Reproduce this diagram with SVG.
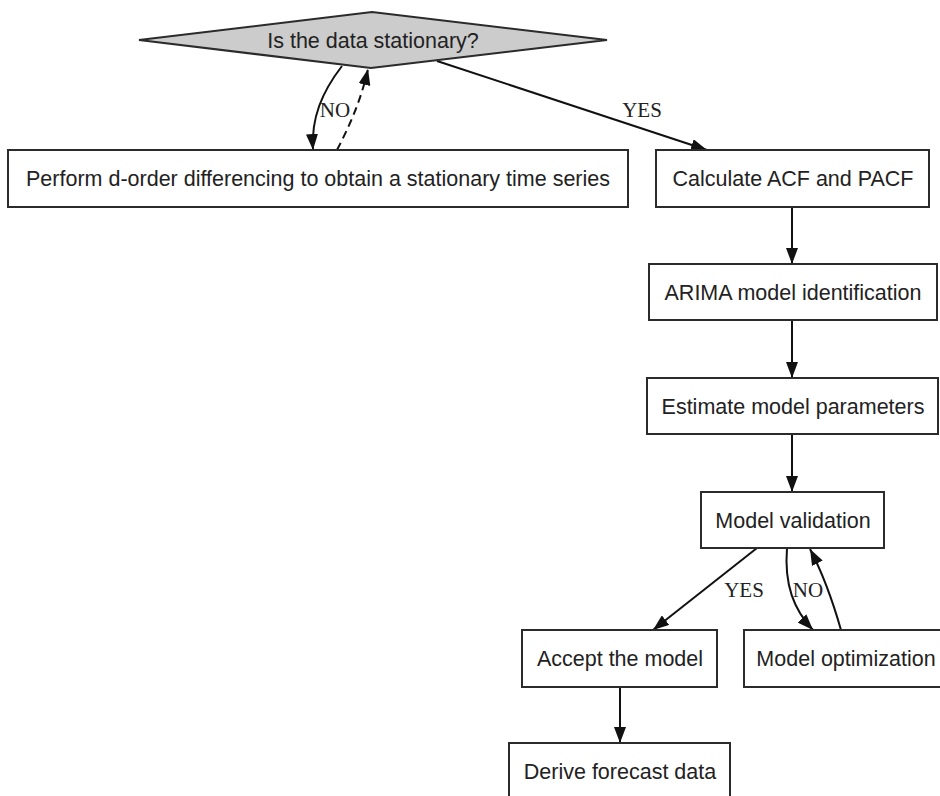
<svg xmlns="http://www.w3.org/2000/svg" width="940" height="796" viewBox="0 0 940 796">
<defs>
<style>
.box{fill:#ffffff;stroke:#2b2b2b;stroke-width:2}
.dia{fill:#cccccc;stroke:#2b2b2b;stroke-width:2}
.t{font-family:"Liberation Sans",Arial,sans-serif;font-size:21.5px;fill:#222;text-anchor:middle}
.lbl{font-family:"Liberation Serif","Times New Roman",serif;font-size:21px;fill:#222;text-anchor:middle}
.e{fill:none;stroke:#111;stroke-width:2}
.dash{stroke-dasharray:8,5}
</style>
<marker id="ah" viewBox="0 0 16 12" refX="16" refY="6" markerWidth="16" markerHeight="12" markerUnits="userSpaceOnUse" orient="auto">
<path d="M0,0 L16,6 L0,12 z" fill="#111"/>
</marker>
</defs>
<rect width="940" height="796" fill="#ffffff"/>
<g id="connectors">
<path class="e" d="M342,66 C322,92 311,118 313,150" marker-end="url(#ah)"/>
<path class="e dash" d="M337,150 C350,125 361,100 368,69" marker-end="url(#ah)"/>
<path class="e" d="M437,61 L707,150" marker-end="url(#ah)"/>
<path class="e" d="M792,207 L792,264" marker-end="url(#ah)"/>
<path class="e" d="M792,320 L792,378" marker-end="url(#ah)"/>
<path class="e" d="M792,434 L792,492" marker-end="url(#ah)"/>
<path class="e" d="M757,548 L653,630" marker-end="url(#ah)"/>
<path class="e" d="M787,548 C784,585 794,610 813,630" marker-end="url(#ah)"/>
<path class="e" d="M841,630 C833,602 823,574 810,549" marker-end="url(#ah)"/>
<path class="e" d="M620,687 L620,743" marker-end="url(#ah)"/>
<text class="lbl" x="335" y="117">NO</text>
<text class="lbl" x="642" y="117">YES</text>
<text class="lbl" x="744" y="597">YES</text>
<text class="lbl" x="808" y="597">NO</text>
</g>
<g id="n_stationary">
<polygon class="dia" points="139,40 372,12 607,40 371,68"/>
<text class="t" x="373" y="48">Is the data stationary?</text>
</g>
<g id="n_diff">
<rect class="box" x="8" y="150" width="620" height="57"/>
<text class="t" x="318" y="186">Perform d-order differencing to obtain a stationary time series</text>
</g>
<g id="n_acf">
<rect class="box" x="656" y="150" width="273" height="57"/>
<text class="t" x="793" y="186">Calculate ACF and PACF</text>
</g>
<g id="n_arima">
<rect class="box" x="649" y="264" width="288" height="56"/>
<text class="t" x="793" y="300">ARIMA model identification</text>
</g>
<g id="n_estimate">
<rect class="box" x="647" y="378" width="291" height="56"/>
<text class="t" x="793" y="414">Estimate model parameters</text>
</g>
<g id="n_validation">
<rect class="box" x="701" y="492" width="183" height="56"/>
<text class="t" x="793" y="528">Model validation</text>
</g>
<g id="n_accept">
<rect class="box" x="522" y="630" width="195" height="57"/>
<text class="t" x="620" y="666">Accept the model</text>
</g>
<g id="n_optimization">
<rect class="box" x="744" y="630" width="220" height="57"/>
<text class="t" x="846" y="666">Model optimization</text>
</g>
<g id="n_forecast">
<rect class="box" x="509" y="743" width="221" height="62"/>
<text class="t" x="620" y="779">Derive forecast data</text>
</g>
</svg>
